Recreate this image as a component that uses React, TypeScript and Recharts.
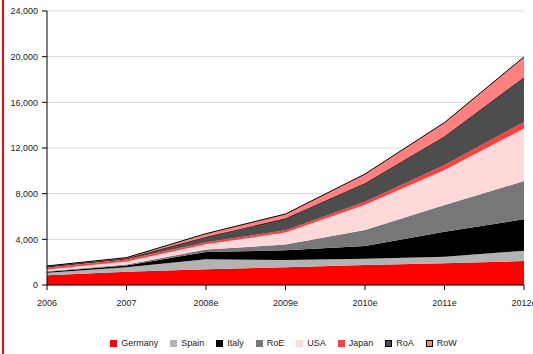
import { AreaChart, Area, XAxis, YAxis, CartesianGrid } from 'recharts';

const years = ['2006', '2007', '2008e', '2009e', '2010e', '2011e', '2012e'];
const germany = [850, 1150, 1380, 1550, 1750, 1900, 2100];
const spain = [220, 400, 870, 640, 550, 580, 900];
const italy = [80, 150, 650, 850, 1120, 2190, 2750];
const roe = [60, 100, 200, 500, 1400, 2340, 3350];
const usa = [150, 250, 470, 1050, 2200, 3070, 4600];
const japan = [180, 180, 180, 200, 280, 440, 580];
const roa = [80, 100, 460, 1030, 1620, 2490, 3900];
const rowRegion = [50, 70, 290, 400, 800, 1220, 1800];
const yTicks = [0, 4000, 8000, 12000, 16000, 20000, 24000];

const SERIES = [
  { key: 'Germany', values: germany, fill: '#ff0000', stroke: 'none' },
  { key: 'Spain', values: spain, fill: '#b3b3b3', stroke: 'none' },
  { key: 'Italy', values: italy, fill: '#000000', stroke: 'none' },
  { key: 'RoE', values: roe, fill: '#777777', stroke: 'none' },
  { key: 'USA', values: usa, fill: '#ffd9d9', stroke: 'none' },
  { key: 'Japan', values: japan, fill: '#ff4040', stroke: 'none' },
  { key: 'RoA', values: roa, fill: '#4d4d4d', stroke: '#000000' },
  { key: 'RoW', values: rowRegion, fill: '#ff8080', stroke: '#000000' },
];

const data = years.map((year, i) => {
  const point: Record<string, string | number> = { year };
  SERIES.forEach(s => { point[s.key] = s.values[i]; });
  return point;
});

const FONT = '"Liberation Sans", Arial, sans-serif';
const tickStyle = { fontSize: 9, fill: '#222', fontFamily: FONT };

export default function App() {
  return (
    <div style={{ position: 'fixed', left: 0, top: 0, width: 533, height: 354, background: '#fff', overflow: 'hidden' }}>
      {/* red rule down the left edge */}
      <div style={{ position: 'absolute', left: 2, top: 0, width: 2, height: 354, background: '#ff0000' }} />

      <AreaChart
        width={533}
        height={354}
        data={data}
        margin={{ top: 11, right: 9, left: 0, bottom: 39 }}
      >
        <CartesianGrid vertical={false} stroke="#dcdcdc" strokeWidth={1.2} />
        <XAxis
          dataKey="year"
          tick={tickStyle}
          tickSize={5}
          tickMargin={10}
          height={30}
          axisLine={{ stroke: '#000' }}
          tickLine={{ stroke: '#000' }}
          interval={0}
        />
        <YAxis
          width={47}
          domain={[0, 24000]}
          ticks={yTicks}
          tickFormatter={(v: number) => v.toLocaleString('en-US')}
          tick={tickStyle}
          tickSize={5}
          tickMargin={4}
          axisLine={{ stroke: '#000' }}
          tickLine={{ stroke: '#000' }}
        />
        {SERIES.map(s => (
          <Area
            key={s.key}
            type="linear"
            dataKey={s.key}
            stackId="a"
            fill={s.fill}
            fillOpacity={1}
            stroke={s.stroke}
            strokeWidth={1}
            isAnimationActive={false}
          />
        ))}
      </AreaChart>

      {/* legend row */}
      <div
        style={{
          position: 'absolute', left: 0, width: 533, top: 337, height: 12,
          display: 'flex', justifyContent: 'center', paddingLeft: 34, boxSizing: 'border-box',
          fontFamily: FONT, fontSize: 9, color: '#222', gap: 12,
        }}
      >
        {SERIES.map(s => (
          <div key={s.key} style={{ display: 'flex', alignItems: 'center', gap: 4 }}>
            <span
              style={{
                display: 'inline-block', width: 7, height: 7, background: s.fill,
                boxSizing: 'border-box',
                border: s.stroke !== 'none' ? '1px solid #000' : 'none',
              }}
            />
            <span>{s.key}</span>
          </div>
        ))}
      </div>
    </div>
  );
}
